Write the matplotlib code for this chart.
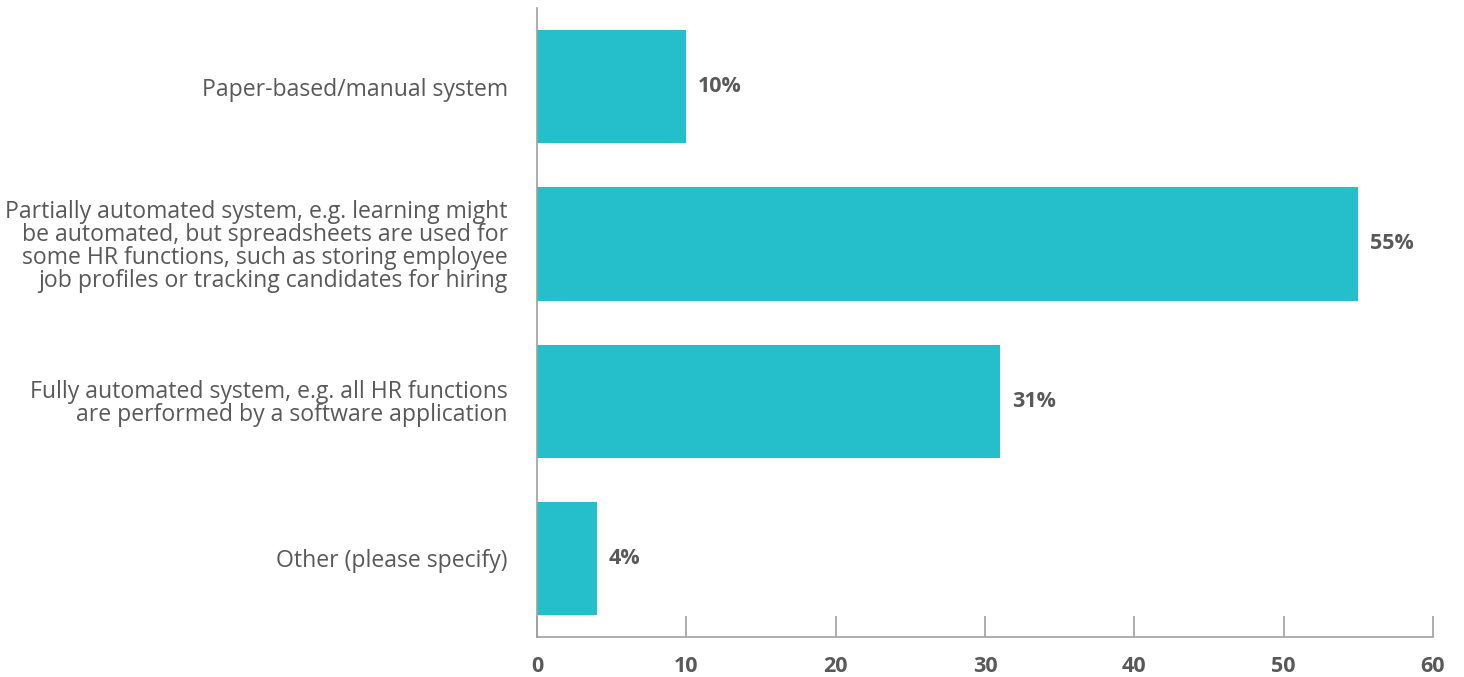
import matplotlib
matplotlib.use('Agg')
from matplotlib import pyplot as plt

plt.rcParams['font.family'] = ['Open Sans', 'DejaVu Sans']

# 数据
categories = [
    "Paper-based/manual system",
    "Partially automated system, e.g. learning might\nbe automated, but spreadsheets are used for\nsome HR functions, such as storing employee\njob profiles or tracking candidates for hiring",
    "Fully automated system, e.g. all HR functions\nare performed by a software application",
    "Other (please specify)",
]
values = [10, 55, 31, 4]
xticks = [0, 10, 20, 30, 40, 50, 60]

bar_color = '#25bfcb'
text_color = '#595959'
axis_color = '#a0a0a0'

fig = plt.figure(figsize=(14.64, 6.77), dpi=100)
ax = fig.add_axes([0.3668, 0.0591, 0.9788 - 0.3668, 0.988 - 0.0591])

y = list(range(len(categories)))
ax.barh(y, values, height=0.72, color=bar_color)

# 数值标签
for yi, v in zip(y, values):
    ax.text(v + 0.8, yi, f"{v}%", va='center', ha='left',
            fontsize=15.5, fontweight='bold', color=text_color)

ax.set_xlim(0, 60)
ax.set_ylim(3.5, -0.5)
ax.set_yticks(y)
ax.set_yticklabels(categories, fontsize=16.6, color=text_color, linespacing=0.95)
ax.tick_params(axis='y', length=0, pad=21)
ax.set_xticks(xticks)
ax.set_xticklabels([str(t) for t in xticks], fontsize=15.5, fontweight='bold', color=text_color)
ax.tick_params(axis='x', direction='in', length=15, width=1.2, color=axis_color, pad=14)

for s in ['top', 'right']:
    ax.spines[s].set_visible(False)
for s in ['left', 'bottom']:
    ax.spines[s].set_color(axis_color)
    ax.spines[s].set_linewidth(1.2)

fig.savefig('out.png', dpi=100)
